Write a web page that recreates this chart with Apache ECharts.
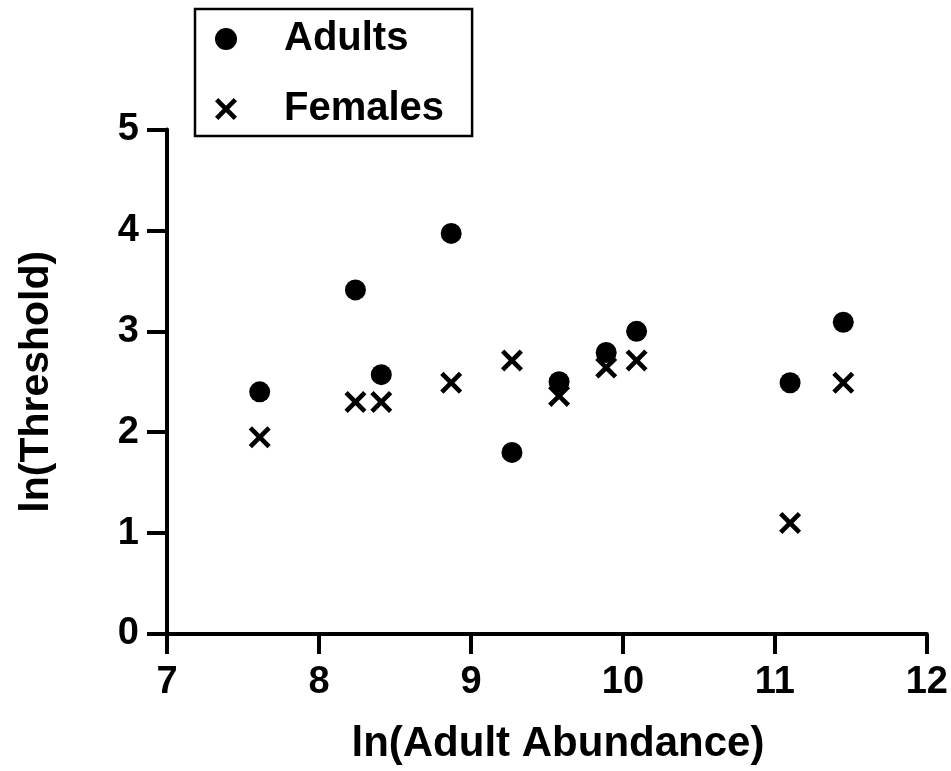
<!DOCTYPE html>
<html>
<head>
<meta charset="utf-8">
<script src="https://cdn.jsdelivr.net/npm/echarts@6/dist/echarts.min.js"></script>
<style>
  html, body { margin: 0; padding: 0; background: #fff; }
  #chart { width: 951px; height: 771px; }
</style>
</head>
<body>
<div id="chart"></div>
<script>
// ln(adult abundance) at each site, shared by both series
const abundance = [7.61, 8.24, 8.41, 8.87, 9.27, 9.58, 9.89, 10.09, 11.10, 11.45];
// ln(threshold) for all adults
const adultsThreshold = [2.40, 3.41, 2.57, 3.97, 1.80, 2.50, 2.79, 3.00, 2.49, 3.09];
// ln(threshold) for females only
const femalesThreshold = [1.95, 2.30, 2.30, 2.49, 2.71, 2.36, 2.64, 2.71, 1.10, 2.49];

const seriesNames = ['Adults', 'Females'];
const xTicks = [7, 8, 9, 10, 11, 12];
const yTicks = [0, 1, 2, 3, 4, 5];

// filled "x" cross used as the Females marker
const CROSS = 'path://M0,15 L15,0 L50,35 L85,0 L100,15 L65,50 L100,85 L85,100 L50,65 L15,100 L0,85 L35,50 Z';

const FONT = '"Liberation Sans", Arial, Helvetica, sans-serif';

const pairs = (ys) => abundance.map((x, i) => [x, ys[i]]);

const chart = echarts.init(document.getElementById('chart'), null, { renderer: 'canvas' });

const axisCommon = {
  axisLine: { show: true, lineStyle: { color: '#000', width: 4 } },
  axisTick: { show: true, inside: false, length: 20, lineStyle: { color: '#000', width: 4 } },
  splitLine: { show: false },
  nameTextStyle: { color: '#000', fontFamily: FONT, fontWeight: 'bold', fontSize: 42 },
  axisLabel: { color: '#000', fontFamily: FONT, fontWeight: 'bold', fontSize: 38 }
};

chart.setOption({
  animation: false,
  backgroundColor: '#fff',
  grid: { left: 167, right: 24, top: 129.5, bottom: 137, containLabel: false },
  xAxis: Object.assign({}, axisCommon, {
    type: 'value',
    min: xTicks[0],
    max: xTicks[xTicks.length - 1],
    interval: 1,
    name: 'ln(Adult Abundance)',
    nameLocation: 'middle',
    nameGap: 89,
    nameTextStyle: Object.assign({}, axisCommon.nameTextStyle, { padding: [0, 0, 0, 22] }),
    axisLabel: Object.assign({}, axisCommon.axisLabel, { margin: 30 })
  }),
  yAxis: Object.assign({}, axisCommon, {
    type: 'value',
    min: yTicks[0],
    max: yTicks[yTicks.length - 1],
    interval: 1,
    name: 'ln(Threshold)',
    nameLocation: 'middle',
    nameGap: 110,
    nameTextStyle: Object.assign({}, axisCommon.nameTextStyle, { fontSize: 41 }),
    axisLabel: Object.assign({}, axisCommon.axisLabel, { margin: 28 })
  }),
  legend: {
    orient: 'vertical',
    left: 195,
    top: 9,
    borderColor: '#000',
    borderWidth: 2.5,
    borderRadius: 0,
    padding: [10, 28, 7, 20],
    itemGap: 30,
    itemWidth: 22,
    itemHeight: 22,
    textStyle: {
      color: '#000', fontFamily: FONT, fontWeight: 'bold', fontSize: 40,
      lineHeight: 40, padding: [0, 0, 0, 42]
    },
    data: [
      { name: seriesNames[0], icon: 'circle' },
      { name: seriesNames[1], icon: CROSS }
    ]
  },
  series: [
    {
      name: seriesNames[0],
      type: 'scatter',
      symbol: 'circle',
      symbolSize: 21,
      itemStyle: { color: '#000', opacity: 1 },
      data: pairs(adultsThreshold),
      z: 2
    },
    {
      name: seriesNames[1],
      type: 'scatter',
      symbol: CROSS,
      symbolSize: 22,
      itemStyle: { color: '#000', opacity: 1 },
      data: pairs(femalesThreshold),
      z: 3
    }
  ]
});
</script>
</body>
</html>
